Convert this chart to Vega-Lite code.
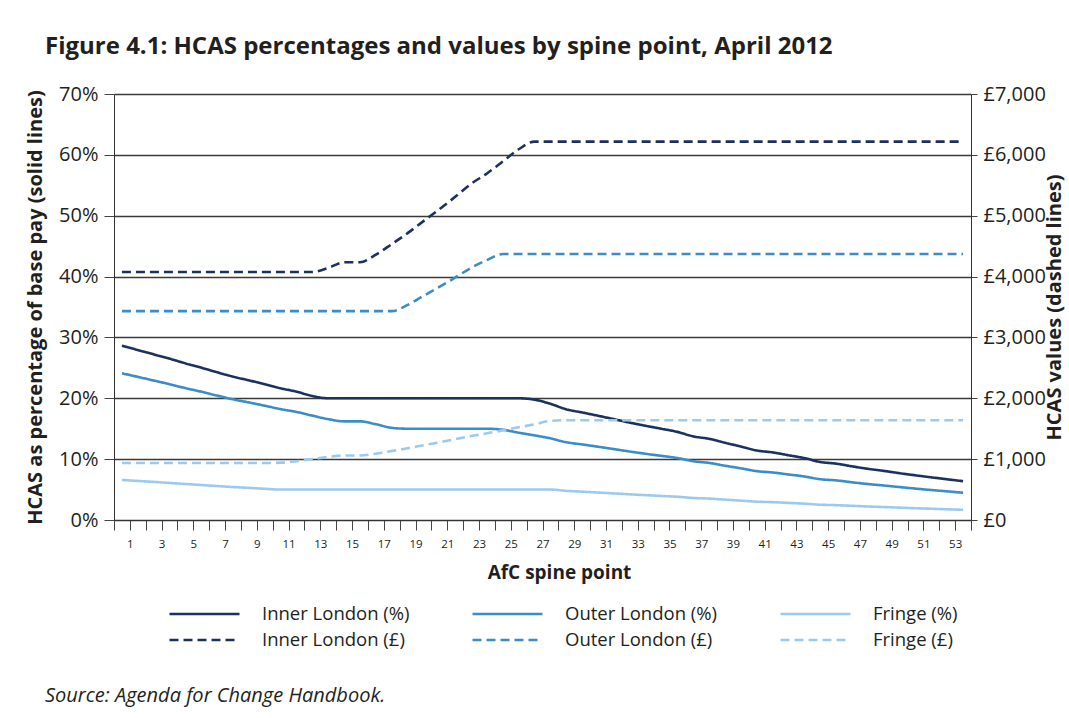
{
  "$schema": "https://vega.github.io/schema/vega-lite/v6.json",
  "autosize": {"type": "none"},
  "width": 857,
  "height": 426,
  "padding": {"left": 114, "top": 94, "right": 98, "bottom": 198},
  "background": "white",
  "config": {"font": "Open Sans", "view": {"stroke": null}},
  "title": {
    "text": "Figure 4.1: HCAS percentages and values by spine point, April 2012",
    "subtitle": "Source: Agenda for Change Handbook.",
    "anchor": "start",
    "frame": "group",
    "dx": -69,
    "offset": -622,
    "font": "Open Sans",
    "fontSize": 24,
    "fontWeight": "bold",
    "color": "#231f20",
    "subtitleFont": "Open Sans",
    "subtitleFontSize": 20,
    "subtitleFontStyle": "italic",
    "subtitleColor": "#231f20",
    "subtitlePadding": 627
  },
  "data": {"values": [
    {"pt":1,"inner_pct":28.64,"outer_pct":24.11,"fringe_pct":6.58,"inner_gbp":4076,"outer_gbp":3432,"fringe_gbp":937},
    {"pt":2,"inner_pct":27.93,"outer_pct":23.52,"fringe_pct":6.42,"inner_gbp":4076,"outer_gbp":3432,"fringe_gbp":937},
    {"pt":3,"inner_pct":27.22,"outer_pct":22.92,"fringe_pct":6.26,"inner_gbp":4076,"outer_gbp":3432,"fringe_gbp":937},
    {"pt":4,"inner_pct":26.51,"outer_pct":22.32,"fringe_pct":6.09,"inner_gbp":4076,"outer_gbp":3432,"fringe_gbp":937},
    {"pt":5,"inner_pct":25.74,"outer_pct":21.67,"fringe_pct":5.92,"inner_gbp":4076,"outer_gbp":3432,"fringe_gbp":937},
    {"pt":6,"inner_pct":25.03,"outer_pct":21.08,"fringe_pct":5.75,"inner_gbp":4076,"outer_gbp":3432,"fringe_gbp":937},
    {"pt":7,"inner_pct":24.27,"outer_pct":20.44,"fringe_pct":5.58,"inner_gbp":4076,"outer_gbp":3432,"fringe_gbp":937},
    {"pt":8,"inner_pct":23.55,"outer_pct":19.83,"fringe_pct":5.41,"inner_gbp":4076,"outer_gbp":3432,"fringe_gbp":937},
    {"pt":9,"inner_pct":22.95,"outer_pct":19.32,"fringe_pct":5.28,"inner_gbp":4076,"outer_gbp":3432,"fringe_gbp":937},
    {"pt":10,"inner_pct":22.30,"outer_pct":18.78,"fringe_pct":5.13,"inner_gbp":4076,"outer_gbp":3432,"fringe_gbp":937},
    {"pt":11,"inner_pct":21.64,"outer_pct":18.22,"fringe_pct":5,"inner_gbp":4076,"outer_gbp":3432,"fringe_gbp":942},
    {"pt":12,"inner_pct":21.09,"outer_pct":17.76,"fringe_pct":5,"inner_gbp":4076,"outer_gbp":3432,"fringe_gbp":966},
    {"pt":13,"inner_pct":20.37,"outer_pct":17.15,"fringe_pct":5,"inner_gbp":4076,"outer_gbp":3432,"fringe_gbp":1000},
    {"pt":14,"inner_pct":20,"outer_pct":16.57,"fringe_pct":5,"inner_gbp":4142,"outer_gbp":3432,"fringe_gbp":1036},
    {"pt":15,"inner_pct":20,"outer_pct":16.21,"fringe_pct":5,"inner_gbp":4235,"outer_gbp":3432,"fringe_gbp":1059},
    {"pt":16,"inner_pct":20,"outer_pct":16.21,"fringe_pct":5,"inner_gbp":4235,"outer_gbp":3432,"fringe_gbp":1059},
    {"pt":17,"inner_pct":20,"outer_pct":15.74,"fringe_pct":5,"inner_gbp":4360,"outer_gbp":3432,"fringe_gbp":1090},
    {"pt":18,"inner_pct":20,"outer_pct":15.14,"fringe_pct":5,"inner_gbp":4533,"outer_gbp":3432,"fringe_gbp":1133},
    {"pt":19,"inner_pct":20,"outer_pct":15,"fringe_pct":5,"inner_gbp":4713,"outer_gbp":3534,"fringe_gbp":1178},
    {"pt":20,"inner_pct":20,"outer_pct":15,"fringe_pct":5,"inner_gbp":4911,"outer_gbp":3683,"fringe_gbp":1228},
    {"pt":21,"inner_pct":20,"outer_pct":15,"fringe_pct":5,"inner_gbp":5106,"outer_gbp":3829,"fringe_gbp":1276},
    {"pt":22,"inner_pct":20,"outer_pct":15,"fringe_pct":5,"inner_gbp":5311,"outer_gbp":3983,"fringe_gbp":1328},
    {"pt":23,"inner_pct":20,"outer_pct":15,"fringe_pct":5,"inner_gbp":5525,"outer_gbp":4144,"fringe_gbp":1381},
    {"pt":24,"inner_pct":20,"outer_pct":15,"fringe_pct":5,"inner_gbp":5694,"outer_gbp":4271,"fringe_gbp":1424},
    {"pt":25,"inner_pct":20,"outer_pct":14.83,"fringe_pct":5,"inner_gbp":5893,"outer_gbp":4371,"fringe_gbp":1473},
    {"pt":26,"inner_pct":20,"outer_pct":14.35,"fringe_pct":5,"inner_gbp":6092,"outer_gbp":4371,"fringe_gbp":1523},
    {"pt":27,"inner_pct":19.77,"outer_pct":13.90,"fringe_pct":5,"inner_gbp":6218,"outer_gbp":4371,"fringe_gbp":1573},
    {"pt":28,"inner_pct":19.09,"outer_pct":13.42,"fringe_pct":5,"inner_gbp":6218,"outer_gbp":4371,"fringe_gbp":1629},
    {"pt":29,"inner_pct":18.19,"outer_pct":12.78,"fringe_pct":4.79,"inner_gbp":6218,"outer_gbp":4371,"fringe_gbp":1639},
    {"pt":30,"inner_pct":17.67,"outer_pct":12.42,"fringe_pct":4.66,"inner_gbp":6218,"outer_gbp":4371,"fringe_gbp":1639},
    {"pt":31,"inner_pct":17.13,"outer_pct":12.04,"fringe_pct":4.51,"inner_gbp":6218,"outer_gbp":4371,"fringe_gbp":1639},
    {"pt":32,"inner_pct":16.57,"outer_pct":11.65,"fringe_pct":4.37,"inner_gbp":6218,"outer_gbp":4371,"fringe_gbp":1639},
    {"pt":33,"inner_pct":16.00,"outer_pct":11.25,"fringe_pct":4.22,"inner_gbp":6218,"outer_gbp":4371,"fringe_gbp":1639},
    {"pt":34,"inner_pct":15.48,"outer_pct":10.88,"fringe_pct":4.08,"inner_gbp":6218,"outer_gbp":4371,"fringe_gbp":1639},
    {"pt":35,"inner_pct":14.99,"outer_pct":10.54,"fringe_pct":3.95,"inner_gbp":6218,"outer_gbp":4371,"fringe_gbp":1639},
    {"pt":36,"inner_pct":14.48,"outer_pct":10.18,"fringe_pct":3.82,"inner_gbp":6218,"outer_gbp":4371,"fringe_gbp":1639},
    {"pt":37,"inner_pct":13.74,"outer_pct":9.66,"fringe_pct":3.62,"inner_gbp":6218,"outer_gbp":4371,"fringe_gbp":1639},
    {"pt":38,"inner_pct":13.34,"outer_pct":9.38,"fringe_pct":3.52,"inner_gbp":6218,"outer_gbp":4371,"fringe_gbp":1639},
    {"pt":39,"inner_pct":12.69,"outer_pct":8.92,"fringe_pct":3.35,"inner_gbp":6218,"outer_gbp":4371,"fringe_gbp":1639},
    {"pt":40,"inner_pct":12.07,"outer_pct":8.49,"fringe_pct":3.18,"inner_gbp":6218,"outer_gbp":4371,"fringe_gbp":1639},
    {"pt":41,"inner_pct":11.42,"outer_pct":8.03,"fringe_pct":3.01,"inner_gbp":6218,"outer_gbp":4371,"fringe_gbp":1639},
    {"pt":42,"inner_pct":11.11,"outer_pct":7.81,"fringe_pct":2.93,"inner_gbp":6218,"outer_gbp":4371,"fringe_gbp":1639},
    {"pt":43,"inner_pct":10.64,"outer_pct":7.48,"fringe_pct":2.81,"inner_gbp":6218,"outer_gbp":4371,"fringe_gbp":1639},
    {"pt":44,"inner_pct":10.17,"outer_pct":7.15,"fringe_pct":2.68,"inner_gbp":6218,"outer_gbp":4371,"fringe_gbp":1639},
    {"pt":45,"inner_pct":9.53,"outer_pct":6.70,"fringe_pct":2.51,"inner_gbp":6218,"outer_gbp":4371,"fringe_gbp":1639},
    {"pt":46,"inner_pct":9.26,"outer_pct":6.51,"fringe_pct":2.44,"inner_gbp":6218,"outer_gbp":4371,"fringe_gbp":1639},
    {"pt":47,"inner_pct":8.82,"outer_pct":6.20,"fringe_pct":2.33,"inner_gbp":6218,"outer_gbp":4371,"fringe_gbp":1639},
    {"pt":48,"inner_pct":8.41,"outer_pct":5.91,"fringe_pct":2.22,"inner_gbp":6218,"outer_gbp":4371,"fringe_gbp":1639},
    {"pt":49,"inner_pct":8.07,"outer_pct":5.67,"fringe_pct":2.13,"inner_gbp":6218,"outer_gbp":4371,"fringe_gbp":1639},
    {"pt":50,"inner_pct":7.69,"outer_pct":5.41,"fringe_pct":2.03,"inner_gbp":6218,"outer_gbp":4371,"fringe_gbp":1639},
    {"pt":51,"inner_pct":7.34,"outer_pct":5.16,"fringe_pct":1.93,"inner_gbp":6218,"outer_gbp":4371,"fringe_gbp":1639},
    {"pt":52,"inner_pct":7.01,"outer_pct":4.92,"fringe_pct":1.85,"inner_gbp":6218,"outer_gbp":4371,"fringe_gbp":1639},
    {"pt":53,"inner_pct":6.69,"outer_pct":4.70,"fringe_pct":1.76,"inner_gbp":6218,"outer_gbp":4371,"fringe_gbp":1639},
    {"pt":54,"inner_pct":6.38,"outer_pct":4.48,"fringe_pct":1.68,"inner_gbp":6218,"outer_gbp":4371,"fringe_gbp":1639}
  ]},
  "encoding": {
    "x": {
      "field": "pt",
      "type": "quantitative",
      "scale": {"domain": [0.5, 54.5], "nice": false, "zero": false},
      "axis": {
        "values": [0.5,1.5,2.5,3.5,4.5,5.5,6.5,7.5,8.5,9.5,10.5,11.5,12.5,13.5,14.5,15.5,16.5,17.5,18.5,19.5,20.5,21.5,22.5,23.5,24.5,25.5,26.5,27.5,28.5,29.5,30.5,31.5,32.5,33.5,34.5,35.5,36.5,37.5,38.5,39.5,40.5,41.5,42.5,43.5,44.5,45.5,46.5,47.5,48.5,49.5,50.5,51.5,52.5,53.5,54.5],
        "labelExpr": "(datum.value - 0.5) % 2 == 1 ? format(datum.value - 0.5, 'd') : ''",
        "title": "AfC spine point",
        "titleFontSize": 19,
        "titleFontWeight": "bold",
        "titleColor": "#231f20",
        "titlePadding": 14,
        "titleX": 445,
        "titleAlign": "center",
        "labelFontSize": 11.5,
        "labelColor": "#231f20",
        "labelPadding": 8,
        "labelAngle": 0,
        "labelOverlap": false,
        "labelFlush": false,
        "tickSize": 10,
        "tickColor": "#444444",
        "domainColor": "#333333",
        "grid": false
      }
    },
    "color": {
      "field": "s",
      "type": "nominal",
      "scale": {
        "domain": ["inner_pct", "outer_pct", "fringe_pct", "inner_gbp", "outer_gbp", "fringe_gbp"],
        "range": ["#1b315e", "#3b8dc7", "#9ccaee", "#1b315e", "#3b8dc7", "#9ccaee"]
      },
      "legend": {
        "orient": "none",
        "legendX": 54,
        "legendY": 510,
        "direction": "horizontal",
        "columns": 3,
        "title": null,
        "symbolType": "stroke",
        "symbolSize": 4900,
        "symbolStrokeWidth": 2.6,
        "clipHeight": 20,
        "labelFontSize": 18.5,
        "labelColor": "#231f20",
        "labelOffset": 21,
        "columnPadding": 61,
        "rowPadding": 6,
        "labelLimit": 300,
        "labelExpr": "{'inner_pct':'Inner London (%)','outer_pct':'Outer London (%)','fringe_pct':'Fringe (%)','inner_gbp':'Inner London (£)','outer_gbp':'Outer London (£)','fringe_gbp':'Fringe (£)'}[datum.label]"
      }
    },
    "strokeDash": {
      "field": "s",
      "type": "nominal",
      "scale": {
        "domain": ["inner_pct", "outer_pct", "fringe_pct", "inner_gbp", "outer_gbp", "fringe_gbp"],
        "range": [[1, 0], [1, 0], [1, 0], [9, 5], [9, 5], [9, 5]]
      },
      "legend": {
        "orient": "none",
        "legendX": 54,
        "legendY": 510,
        "direction": "horizontal",
        "columns": 3,
        "title": null,
        "symbolType": "stroke",
        "symbolSize": 4900,
        "symbolStrokeWidth": 2.6,
        "clipHeight": 20,
        "labelFontSize": 18.5,
        "labelColor": "#231f20",
        "labelOffset": 21,
        "columnPadding": 61,
        "rowPadding": 6,
        "labelLimit": 300,
        "labelExpr": "{'inner_pct':'Inner London (%)','outer_pct':'Outer London (%)','fringe_pct':'Fringe (%)','inner_gbp':'Inner London (£)','outer_gbp':'Outer London (£)','fringe_gbp':'Fringe (£)'}[datum.label]"
      }
    }
  },
  "layer": [
    {
      "transform": [{"fold": ["inner_pct", "outer_pct", "fringe_pct"], "as": ["s", "v"]}],
      "mark": {"type": "line", "strokeWidth": 2.6, "interpolate": "monotone"},
      "encoding": {
        "y": {
          "field": "v",
          "type": "quantitative",
          "scale": {"domain": [0, 70], "nice": false},
          "axis": {
            "orient": "left",
            "values": [0, 10, 20, 30, 40, 50, 60, 70],
            "labelExpr": "datum.value + '%'",
            "grid": true,
            "gridColor": "#3a3a3a",
            "gridWidth": 1.4,
            "tickSize": 10,
            "tickColor": "#444444",
            "domainColor": "#333333",
            "labelFontSize": 20,
            "labelColor": "#231f20",
            "labelPadding": 6,
            "title": "HCAS as percentage of base pay (solid lines)",
            "titleFontSize": 20,
            "titleFontWeight": "bold",
            "titleColor": "#231f20",
            "titleAngle": -90,
            "titleX": -73,
            "titleY": 213,
            "titleAlign": "center",
            "titleBaseline": "alphabetic"
          }
        }
      }
    },
    {
      "transform": [{"fold": ["inner_gbp", "outer_gbp", "fringe_gbp"], "as": ["s", "v"]}],
      "mark": {"type": "line", "strokeWidth": 2.6, "interpolate": "monotone"},
      "encoding": {
        "y": {
          "field": "v",
          "type": "quantitative",
          "scale": {"domain": [0, 7000], "nice": false},
          "axis": {
            "orient": "right",
            "values": [0, 1000, 2000, 3000, 4000, 5000, 6000, 7000],
            "labelExpr": "'£' + format(datum.value, ',')",
            "grid": false,
            "tickSize": 6,
            "tickColor": "#444444",
            "domainColor": "#333333",
            "labelFontSize": 20,
            "labelColor": "#231f20",
            "labelPadding": 6,
            "title": "HCAS values (dashed lines)",
            "titleFontSize": 20,
            "titleFontWeight": "bold",
            "titleColor": "#231f20",
            "titleAngle": -90,
            "titleX": 89,
            "titleY": 213,
            "titleAlign": "center",
            "titleBaseline": "alphabetic"
          }
        }
      }
    }
  ],
  "resolve": {"scale": {"y": "independent"}}
}
